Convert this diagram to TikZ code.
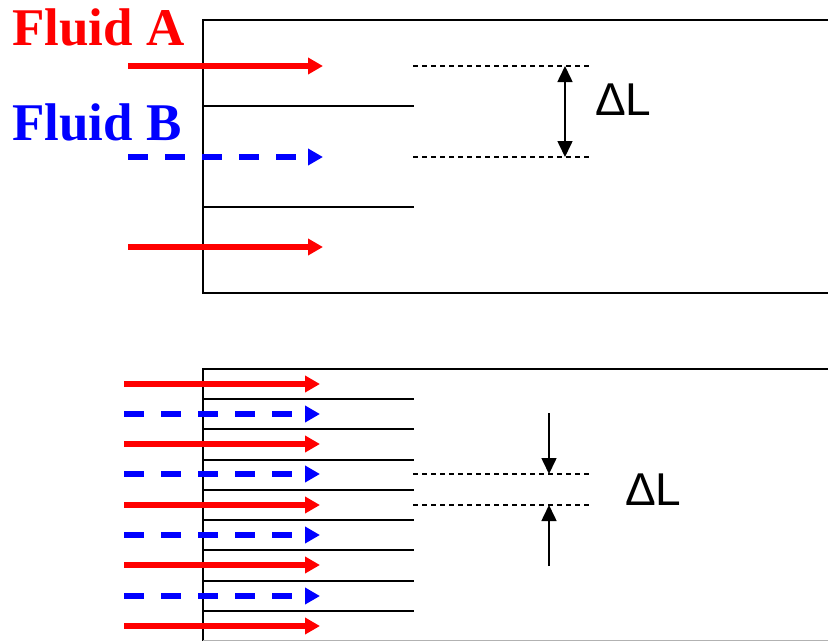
\documentclass[tikz,border=0pt]{standalone}
\usepackage{fontspec}
\setmainfont{Liberation Serif}
\newfontfamily\dlfont{Liberation Sans}
\usetikzlibrary{arrows.meta}
\begin{document}
\begin{tikzpicture}[x=1pt,y=-1pt,
  wall/.style={draw=black,line width=2pt},
  flowA/.style={draw=red,line width=5.5pt,-{Triangle[length=15pt,width=16pt]}},
  flowB/.style={draw=blue,line width=5.5pt,dash pattern=on 20pt off 17pt,-{Triangle[length=15pt,width=16pt]}},
  guide/.style={draw=black,line width=1.3pt,dash pattern=on 5pt off 4pt},
  dim/.style={draw=black,line width=1.6pt},
  fluidlbl/.style={inner sep=0pt,anchor=base west,font=\fontsize{53}{60}\selectfont\bfseries},
  dllbl/.style={inner sep=0pt,anchor=base west,font=\dlfont\fontsize{46}{52}\selectfont}]
\useasboundingbox (0,0) rectangle (828,641);
\fill[white] (0,0) rectangle (828,641);

% ---------- top channel ----------
\coordinate (t1) at (828,20);
\coordinate (t2) at (203,20);
\coordinate (t3) at (203,293);
\coordinate (t4) at (828,293);
\draw[wall] (t1) -- (t2) -- (t3) -- (t4);
\coordinate (p1a) at (203,106); \coordinate (p1b) at (414,106);
\coordinate (p2a) at (203,207); \coordinate (p2b) at (414,207);
\draw[wall] (p1a) -- (p1b);
\draw[wall] (p2a) -- (p2b);

\coordinate (a1s) at (128,66);  \coordinate (a1e) at (323,66);
\coordinate (b1s) at (128,157); \coordinate (b1e) at (323,157);
\coordinate (a2s) at (128,247); \coordinate (a2e) at (323,247);
\draw[flowA] (a1s) -- (a1e);
\draw[flowB] (b1s) -- (b1e);
\draw[flowA] (a2s) -- (a2e);

\coordinate (g1a) at (413,66);  \coordinate (g1b) at (590,66);
\coordinate (g2a) at (413,157); \coordinate (g2b) at (590,157);
\draw[guide] (g1a) -- (g1b);
\draw[guide] (g2a) -- (g2b);
\coordinate (d1) at (565,66); \coordinate (d2) at (565,157);
\draw[dim,{Triangle[length=16pt,width=15pt]}-{Triangle[length=16pt,width=15pt]}] (d1) -- (d2);

\node[fluidlbl,text=red] (fa) at (12,45) {Fluid A};
\node[fluidlbl,text=blue] (fb) at (12,140) {Fluid B};
\node[dllbl] (dl1) at (595,115) {ΔL};

% ---------- bottom channel ----------
\coordinate (u1) at (828,369);
\coordinate (u2) at (203,369);
\coordinate (u3) at (203,641);
\draw[wall] (u1) -- (u2) -- (u3);
\coordinate (u4) at (203,640); \coordinate (u5) at (828,640);
\draw[draw=black!30,line width=1pt] (u4) -- (u5);

\foreach \y [count=\i] in {399,429,460,490,520,550,581,611}{
  \coordinate (q\i a) at (203,\y); \coordinate (q\i b) at (414,\y);
  \draw[wall] (q\i a) -- (q\i b);
}
\foreach \y [count=\i] in {384,444,505,565,626}{
  \coordinate (ra\i) at (124,\y); \coordinate (rb\i) at (320,\y);
  \draw[flowA] (ra\i) -- (rb\i);
}
\foreach \y [count=\i] in {414,474,535,596}{
  \coordinate (ba\i) at (124,\y); \coordinate (bb\i) at (320,\y);
  \draw[flowB] (ba\i) -- (bb\i);
}

\coordinate (h1a) at (413,474); \coordinate (h1b) at (590,474);
\coordinate (h2a) at (413,505); \coordinate (h2b) at (590,505);
\draw[guide] (h1a) -- (h1b);
\draw[guide] (h2a) -- (h2b);
\coordinate (e1) at (549,413); \coordinate (e2) at (549,474);
\coordinate (e3) at (549,566); \coordinate (e4) at (549,505);
\draw[dim,-{Triangle[length=16pt,width=15pt]}] (e1) -- (e2);
\draw[dim,-{Triangle[length=16pt,width=15pt]}] (e3) -- (e4);
\node[dllbl] (dl2) at (625,505) {ΔL};
\end{tikzpicture}
\end{document}
